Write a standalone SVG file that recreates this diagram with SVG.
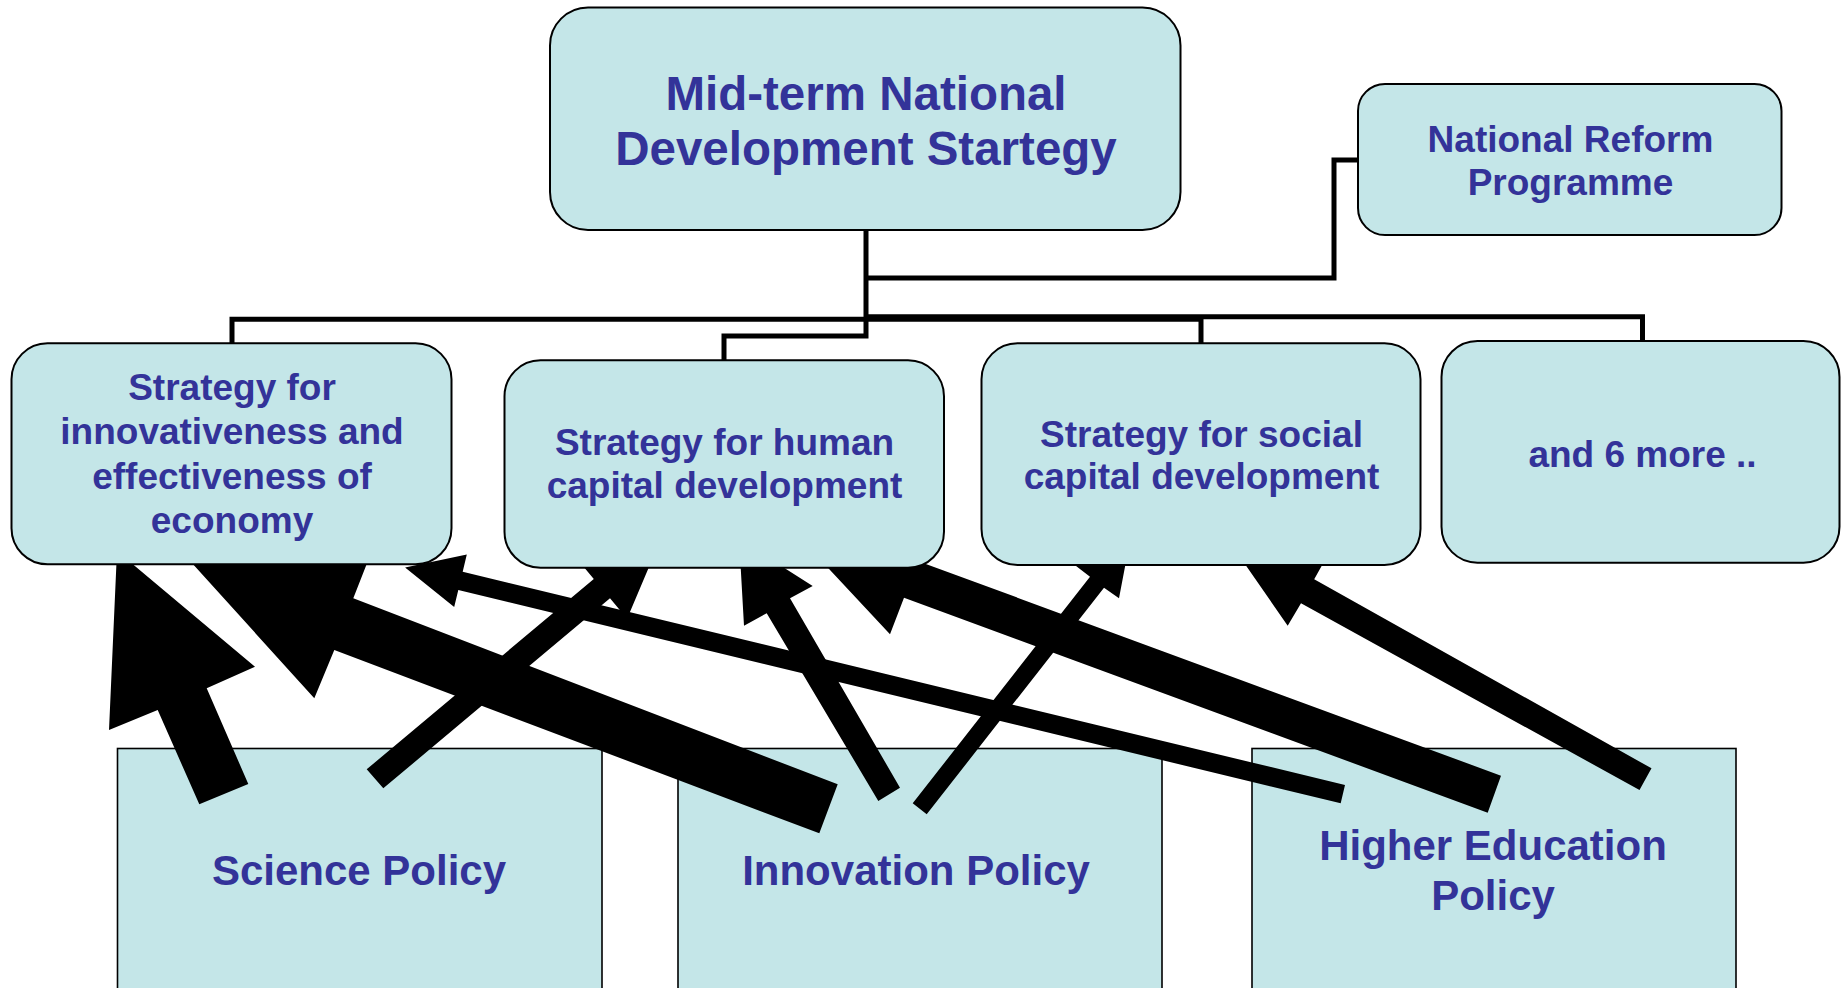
<svg xmlns="http://www.w3.org/2000/svg" width="1841" height="988" viewBox="0 0 1841 988">
<style>
.box{fill:#C4E6E8;stroke:#000;stroke-width:2}
.pbox{fill:#C4E6E8;stroke:#000;stroke-width:1.6}
.t{font-family:"Liberation Sans",Arial,sans-serif;font-weight:bold;fill:#333399;text-anchor:middle}
.line{fill:none;stroke:#000;stroke-width:5}
.arrow{fill:#000;stroke:none}
</style>
<rect width="1841" height="988" fill="#fff"/>

<g id="science-policy">
<rect class="pbox" x="117.5" y="748.5" width="484.5" height="260"/>
<text class="t" x="359" y="885" font-size="42">Science Policy</text>
</g>
<g id="innovation-policy">
<rect class="pbox" x="678" y="748.5" width="484" height="260"/>
<text class="t" x="916" y="885" font-size="42">Innovation Policy</text>
</g>
<g id="higher-education-policy">
<rect class="pbox" x="1252" y="748.5" width="484" height="260"/>
<text class="t" x="1493" y="860" font-size="42">Higher Education</text>
<text class="t" x="1493" y="910" font-size="42">Policy</text>
</g>

<g id="connectors">
<polygon class="arrow" points="117,551 255,666.7 206.7,688.3 248.3,784 199.3,804.3 157.7,710 109,730"/>
<polygon class="arrow" points="366.7,769.3 383.3,788.3 610,598.3 627.1,618.7 660.6,539.4 576.7,558.5 593.8,578.9"/>
<polygon class="arrow" points="191,562 372.4,549.5 353.3,598.3 837.7,784.3 819.3,833.3 334.3,650 314.3,698.3"/>
<polygon class="arrow" points="739.1,539.2 812.7,586 790,598.3 900,787.7 878.3,801 766.7,613.3 744,625.7"/>
<polygon class="arrow" points="1130.2,539.5 1119,598.3 1104,587.7 926.7,814.3 912.7,803.3 1090,576.7 1075.4,565.5"/>
<polygon class="arrow" points="405.1,567.4 466.8,554.6 462.7,571.7 1345,785 1340.7,803.3 458.3,590 454.2,607"/>
<polygon class="arrow" points="800.6,538.6 931.1,524.1 917.6,560.9 1501,775.7 1487.7,812.7 904,597.7 890,634.3"/>
<polygon class="arrow" points="1236.2,551.6 1326.9,556.6 1314.2,579.3 1651.5,768.3 1639.5,790 1301,603.3 1287.7,625.7"/>
<path class="line" d="M1358,160 H1334 V278 H866"/>
<path class="line" d="M866,229 V336 H724 V361"/>
<path class="line" d="M232,344 V319.2 H1201 V344"/>
<path class="line" d="M866,316.8 H1642.5 V342"/>
</g>

<g id="mid-term-strategy">
<rect class="box" x="550" y="7.5" width="630.5" height="222.5" rx="38" ry="38"/>
<text class="t" x="866" y="110" font-size="47.5">Mid-term National</text>
<text class="t" x="866" y="165" font-size="47.5">Development Startegy</text>
</g>
<g id="national-reform-programme">
<rect class="box" x="1358" y="84" width="423.5" height="151" rx="27" ry="27"/>
<text class="t" x="1570.5" y="151.7" font-size="37">National Reform</text>
<text class="t" x="1570.5" y="195" font-size="37">Programme</text>
</g>
<g id="strategy-innovativeness">
<rect class="box" x="11.5" y="343.3" width="440" height="221" rx="36" ry="36"/>
<text class="t" x="232" y="400" font-size="37">Strategy for</text>
<text class="t" x="232" y="444" font-size="37">innovativeness and</text>
<text class="t" x="232" y="488.5" font-size="37">effectiveness of</text>
<text class="t" x="232" y="533" font-size="37">economy</text>
</g>
<g id="strategy-human-capital">
<rect class="box" x="504.5" y="360.3" width="439.5" height="207.5" rx="36" ry="36"/>
<text class="t" x="724.5" y="455" font-size="37">Strategy for human</text>
<text class="t" x="724.5" y="497.5" font-size="37">capital development</text>
</g>
<g id="strategy-social-capital">
<rect class="box" x="981.5" y="343.3" width="439" height="221.7" rx="36" ry="36"/>
<text class="t" x="1201.5" y="446.7" font-size="37">Strategy for social</text>
<text class="t" x="1201.5" y="489" font-size="37">capital development</text>
</g>
<g id="and-6-more">
<rect class="box" x="1441.5" y="341" width="398" height="221.7" rx="36" ry="36"/>
<text class="t" x="1642.5" y="466.7" font-size="37">and 6 more ..</text>
</g>
</svg>
